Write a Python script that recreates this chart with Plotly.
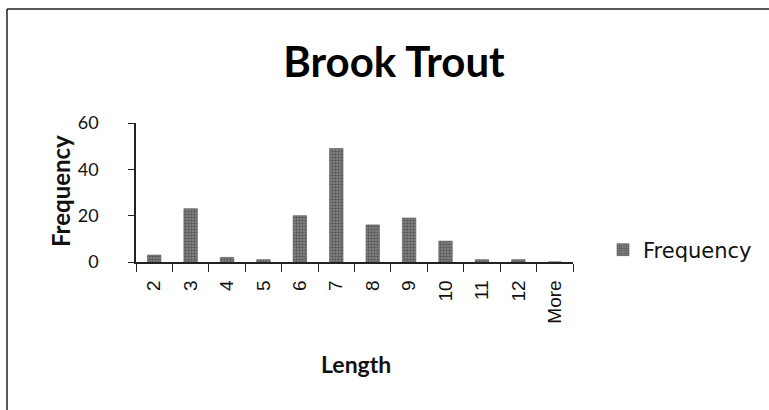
import plotly.graph_objects as go

categories = ["2", "3", "4", "5", "6", "7", "8", "9", "10", "11", "12", "More"]
frequency = [3, 23, 2, 1, 20, 49, 16, 19, 9, 1, 1, 0]
y_ticks = [0, 20, 40, 60]

FONT = "Lato, Open Sans, sans-serif"

# plot area in pixels
L, R, T, B = 136, 573, 123, 262
PW, PH = R - L, B - T

def px(x):
    return (x - L) / PW

def py(y):
    return (B - y) / PH

fig = go.Figure()
fig.add_trace(go.Bar(
    x=categories, y=frequency, name="Frequency", width=0.37,
    marker=dict(color="#8a8a8a", line=dict(color="#555555", width=0.6),
                pattern=dict(shape=".", size=3, solidity=0.5, fgcolor="#262626")),
    showlegend=True,
))

fig.update_layout(
    width=769, height=410,
    margin=dict(l=L, r=769 - R, t=T, b=410 - B, autoexpand=False),
    paper_bgcolor="white", plot_bgcolor="white",
    font=dict(family=FONT, color="#111111", size=17),
    title=dict(text="<b>Brook Trout</b>", x=394 / 769, xanchor="center",
               y=1 - 62 / 410, yanchor="middle",
               font=dict(size=42, family=FONT, color="#000")),
    xaxis=dict(type="category", showline=True, linecolor="#222", linewidth=1.5,
               ticks="outside", tickson="boundaries", ticklen=8, tickcolor="#222",
               tickangle=-90, ticklabelstandoff=9,
               tickfont=dict(size=19, family="Liberation Sans, Arial, sans-serif"),
               showgrid=False, zeroline=False),
    yaxis=dict(range=[0, 60], tickvals=y_ticks, showline=True, linecolor="#222", linewidth=1.5,
               ticks="outside", ticklen=6, tickcolor="#222", ticklabelstandoff=26,
               tickfont=dict(size=18), showgrid=False, zeroline=False),
    legend=dict(x=px(603), y=py(250), xanchor="left", yanchor="middle",
                font=dict(size=21, family="DejaVu Sans, sans-serif"),
                itemwidth=30, bgcolor="rgba(0,0,0,0)"),
)

fig.add_annotation(text="<b>Frequency</b>", xref="paper", yref="paper",
                   x=px(60), y=py(191), textangle=-90, showarrow=False,
                   font=dict(size=24, family=FONT), xanchor="center", yanchor="middle")
fig.add_annotation(text="<b>Length</b>", xref="paper", yref="paper",
                   x=px(356), y=py(364), showarrow=False,
                   font=dict(size=23, family=FONT), xanchor="center", yanchor="middle")

# outer chart frame
fig.add_shape(type="line", xref="paper", yref="paper",
              x0=px(7), x1=px(770), y0=py(9), y1=py(9),
              line=dict(color="#222", width=1.5))
fig.add_shape(type="line", xref="paper", yref="paper",
              x0=px(7), x1=px(7), y0=py(9), y1=py(412),
              line=dict(color="#222", width=1.5))

fig.write_html("out.html", config={"displayModeBar": False},
               post_script="document.body.style.margin='0';")
